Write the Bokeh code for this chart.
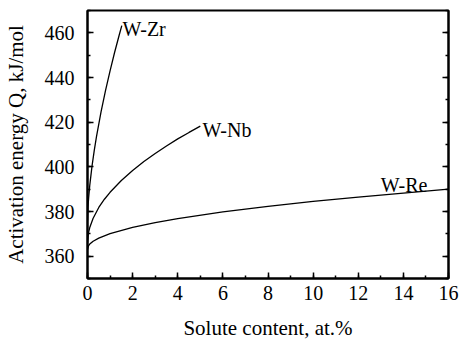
from bokeh.plotting import figure
from bokeh.models import LinearAxis, SingleIntervalTicker, Range1d
from bokeh.core.properties import value
from bokeh.embed import file_html
from bokeh.resources import INLINE

# W-Zr
zr_c = [0, 0.02, 0.05, 0.1, 0.2, 0.3, 0.4, 0.6, 0.8, 1.0, 1.2, 1.4, 1.52]
zr_q = [376, 381.7, 386.1, 391.7, 400.3, 407.4, 413.6, 424.6, 434.2, 443.0, 451.2, 458.8, 463.2]
# W-Nb
nb_c = [0, 0.05, 0.1, 0.25, 0.5, 0.75, 1, 1.5, 2, 2.5, 3, 3.5, 4, 4.5, 5]
nb_q = [366, 370.8, 372.8, 377, 381.8, 385.5, 388.6, 393.9, 398.4, 402.4, 406, 409.3, 412.5, 415.4, 418.2]
# W-Re
re_c = [0, 0.05, 0.1, 0.25, 0.5, 1, 2, 3, 4, 6, 8, 10, 12, 14, 16]
re_q = [363, 364.7, 365.4, 366.7, 368.1, 370.1, 372.9, 375, 376.8, 379.8, 382.3, 384.5, 386.4, 388.2, 390]

labels = ["W-Zr", "W-Nb", "W-Re"]
label_x = [1.55, 5.1, 13.0]
label_y = [461.7, 416.6, 391.7]

y_ticks = [360, 380, 400, 420, 440, 460]

FONT = "Liberation Serif"
TICK_FONT = "Times New Roman, Liberation Serif, serif"

p = figure(frame_width=361, frame_height=268,
           min_border_left=85, min_border_top=10, min_border_right=14, min_border_bottom=61,
           x_range=Range1d(0, 16), y_range=Range1d(350, 470),
           output_backend="svg", toolbar_location=None,
           background_fill_color="white", border_fill_color="white")
p.grid.visible = False
p.outline_line_color = "black"
p.outline_line_width = 2

for c, q in [(zr_c, zr_q), (nb_c, nb_q), (re_c, re_q)]:
    p.line(c, q, line_color="black", line_width=1.3)

p.text(x=label_x, y=label_y, text=labels, text_font=value(FONT),
       text_font_size="20px", text_color="black",
       text_align="left", text_baseline="alphabetic")

def style(ax):
    ax.axis_line_width = 2
    ax.axis_line_color = "black"
    ax.major_tick_in = 6
    ax.major_tick_out = 0
    ax.minor_tick_in = 3
    ax.minor_tick_out = 0
    ax.major_tick_line_width = 1.5
    ax.minor_tick_line_width = 1.5
    ax.major_label_text_font = TICK_FONT
    ax.major_label_text_font_size = "20px"
    ax.major_label_text_font_style = "normal"
    ax.major_label_text_color = "black"
    ax.axis_label_text_font = FONT
    ax.axis_label_text_font_size = "21px"
    ax.axis_label_text_font_style = "normal"
    ax.axis_label_text_color = "black"

xt = SingleIntervalTicker(interval=2, num_minor_ticks=2)
yt = SingleIntervalTicker(interval=20, num_minor_ticks=2)
p.xaxis.ticker = xt
p.yaxis.ticker = yt
p.xaxis.axis_label = "Solute content, at.%"
p.yaxis.axis_label = "Activation energy Q, kJ/mol"
style(p.xaxis[0])
style(p.yaxis[0])
p.xaxis.major_label_standoff = 7
p.xaxis.axis_label_standoff = 13
p.yaxis.major_label_standoff = 13
p.yaxis.axis_label_standoff = 14

ry = LinearAxis(ticker=SingleIntervalTicker(interval=20, num_minor_ticks=2))
style(ry)
ry.major_label_overrides = {v: "" for v in y_ticks}
ry.major_label_standoff = 0
p.add_layout(ry, "right")

open("out.html", "w").write(file_html(p, INLINE))
